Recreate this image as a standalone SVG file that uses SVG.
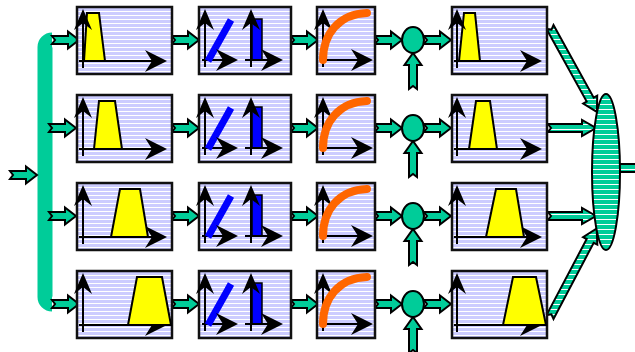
<svg xmlns="http://www.w3.org/2000/svg" width="635" height="352" viewBox="0 0 635 352">
<style>
.box{fill:url(#lav);stroke:#111;stroke-width:2.5}
.ax{stroke:#000;stroke-width:2;fill:none}
.trap{fill:#FFFF00;stroke:#000;stroke-width:2}
.sa{fill:#00CC99;stroke:#000;stroke-width:2}
.ba{fill:url(#grn);stroke:#000;stroke-width:2}
.jn{fill:#00CC99;stroke:#000;stroke-width:2}
.blue{stroke:#0000FF;stroke-width:7}
.curve{stroke:#FF6600;stroke-width:8;stroke-linecap:round;fill:none}
</style>
<defs>
  <!-- lavender fill with thin white rules -->
  <pattern id="lav" width="8" height="4" patternUnits="userSpaceOnUse">
    <rect width="8" height="4" fill="#CCCCFF"/>
    <rect y="3" width="8" height="1" fill="#FFFFFF"/>
  </pattern>
  <!-- green fill with white rules -->
  <pattern id="grn" width="8" height="5" patternUnits="userSpaceOnUse">
    <rect width="8" height="5" fill="#00CC99"/>
    <rect y="4" width="8" height="1" fill="#FFFFFF"/>
  </pattern>
  <!-- barbed heads: right-pointing and up-pointing, tip at origin -->
  <path id="hr" d="M0,0 L-22,-11 L-15,0 L-22,11 Z"/>
  <path id="hu" d="M0,0 L-9,21 L0,14 L9,21 Z"/>
  <!-- small block arrows, tail at origin -->
  <path id="sa" class="sa" d="M0,-4 L16,-4 L16,-8.5 L27,0 L16,8.5 L16,4 L0,4 L3,0 Z"/>
  <path id="va" class="sa" d="M-4,0 L0,-3 L4,0 L4,-24 L8.5,-24 L0,-36 L-8.5,-24 L-4,-24 Z"/>
  <!-- box contents (first-row coordinates) -->
  <g id="c1a">
    <line class="ax" x1="83" y1="68" x2="83" y2="18"/>
    <line class="ax" x1="79" y1="61" x2="155" y2="61"/>
    <use href="#hr" x="167" y="61"/>
  </g>
  <g id="c2">
    <rect x="252" y="19" width="10" height="41" fill="#0000FF" stroke="#000" stroke-width="1.5"/>
    <line class="ax" x1="205" y1="67" x2="205" y2="18"/>
    <line class="ax" x1="202" y1="60" x2="228" y2="60"/>
    <line class="ax" x1="251" y1="67" x2="251" y2="18"/>
    <line class="ax" x1="245" y1="60" x2="273" y2="60"/>
    <line class="blue" x1="208" y1="61" x2="231" y2="20"/>
    <use href="#hu" x="205" y="9"/>
    <use href="#hr" x="238" y="60"/>
    <use href="#hu" x="251" y="9"/>
    <use href="#hr" x="283" y="60"/>
  </g>
  <g id="c3">
    <line class="ax" x1="323" y1="67" x2="323" y2="18"/>
    <line class="ax" x1="320" y1="60" x2="361" y2="60"/>
    <use href="#hu" x="323" y="9"/>
    <use href="#hr" x="373" y="60"/>
    <path class="curve" d="M323,60 C323,34 339,14 367,13"/>
  </g>
  <g id="c5a">
    <line class="ax" x1="457" y1="68" x2="457" y2="18"/>
    <line class="ax" x1="454" y1="61" x2="530" y2="61"/>
    <use href="#hr" x="542" y="61"/>
  </g>
</defs>

<rect width="635" height="352" fill="#FFFFFF"/>

<!-- distribution bus -->
<g id="bus">
  <path d="M52,40 A7,7 0 0 0 45,47 L45,297 A7,7 0 0 0 52,304" fill="none" stroke="#00CC99" stroke-width="15"/>
</g>

<!-- connectors -->
<g id="connectors">
  <use href="#sa" x="10" y="175"/>
  <use href="#sa" x="52" y="40"/>
  <use href="#sa" x="49" y="128"/>
  <use href="#sa" x="49" y="216"/>
  <use href="#sa" x="52" y="304"/>

  <use href="#sa" x="172" y="40"/>
  <use href="#sa" x="172" y="128"/>
  <use href="#sa" x="172" y="216"/>
  <use href="#sa" x="172" y="304"/>

  <use href="#sa" x="291" y="40"/>
  <use href="#sa" x="291" y="128"/>
  <use href="#sa" x="291" y="216"/>
  <use href="#sa" x="291" y="304"/>

  <use href="#sa" x="375" y="40"/>
  <use href="#sa" x="375" y="128"/>
  <use href="#sa" x="375" y="216"/>
  <use href="#sa" x="375" y="304"/>

  <use href="#sa" x="424" y="40"/>
  <use href="#sa" x="424" y="128"/>
  <use href="#sa" x="424" y="216"/>
  <use href="#sa" x="424" y="304"/>

  <use href="#va" x="413" y="89"/>
  <use href="#va" x="413" y="177"/>
  <use href="#va" x="413" y="265"/>
  <use href="#va" x="413" y="353"/>

  <path class="ba" d="M553.5,25.1 L593.7,97.7 L597.2,95.7 L596.9,111.9 L583.2,103.5 L586.7,101.5 L546.5,28.9 L551.5,29.6 Z"/>
  <path class="ba" d="M548,124 L582,124 L582,120 L596,128 L582,136 L582,132 L548,132 L551,128 Z"/>
  <path class="ba" d="M548,212 L582,212 L582,208 L596,216 L582,224 L582,220 L548,220 L551,216 Z"/>
  <path class="ba" d="M546.5,315.1 L586.7,239.0 L583.1,237.2 L596.7,228.5 L597.3,244.6 L593.7,242.8 L553.5,318.9 L551.4,314.3 Z"/>
  <path class="ba" d="M612,164 L640,164 L640,172 L612,172 L615,168 Z"/>
</g>

<!-- column 1: pass-band boxes -->
<g id="band-1">
  <rect class="box" x="77" y="7" width="95" height="67"/>
  <use href="#c1a"/>
  <polygon class="trap" points="84,61 87,13 99,13 105,61"/>
  <use href="#hu" x="83" y="9"/>
</g>
<g id="band-2" transform="translate(0,88)">
  <rect class="box" x="77" y="7" width="95" height="67"/>
  <use href="#c1a"/>
  <polygon class="trap" points="94,61 99,13 115,13 122,61"/>
  <use href="#hu" x="83" y="9"/>
</g>
<g id="band-3" transform="translate(0,176)">
  <rect class="box" x="77" y="7" width="95" height="67"/>
  <use href="#c1a"/>
  <polygon class="trap" points="111,61 120,13 140,13 148,61"/>
  <use href="#hu" x="83" y="9"/>
</g>
<g id="band-4" transform="translate(0,264)">
  <rect class="box" x="77" y="7" width="95" height="67"/>
  <use href="#c1a"/>
  <polygon class="trap" points="128,61 137,13 162,13 171,61"/>
  <use href="#hu" x="83" y="9"/>
</g>

<!-- column 2 -->
<g id="lin-1"><rect class="box" x="199" y="7" width="92" height="67"/><use href="#c2"/></g>
<g id="lin-2" transform="translate(0,88)"><rect class="box" x="199" y="7" width="92" height="67"/><use href="#c2"/></g>
<g id="lin-3" transform="translate(0,176)"><rect class="box" x="199" y="7" width="92" height="67"/><use href="#c2"/></g>
<g id="lin-4" transform="translate(0,264)"><rect class="box" x="199" y="7" width="92" height="67"/><use href="#c2"/></g>

<!-- column 3 -->
<g id="curve-1"><rect class="box" x="317" y="7" width="58" height="67"/><use href="#c3"/></g>
<g id="curve-2" transform="translate(0,88)"><rect class="box" x="317" y="7" width="58" height="67"/><use href="#c3"/></g>
<g id="curve-3" transform="translate(0,176)"><rect class="box" x="317" y="7" width="58" height="67"/><use href="#c3"/></g>
<g id="curve-4" transform="translate(0,264)"><rect class="box" x="317" y="7" width="58" height="67"/><use href="#c3"/></g>

<!-- junctions -->
<g id="mix-1"><ellipse class="jn" cx="413" cy="40" rx="11" ry="13"/></g>
<g id="mix-2"><ellipse class="jn" cx="413" cy="128" rx="11" ry="13"/></g>
<g id="mix-3"><ellipse class="jn" cx="413" cy="216" rx="11" ry="13"/></g>
<g id="mix-4"><ellipse class="jn" cx="413" cy="304" rx="11" ry="13"/></g>

<!-- column 5 -->
<g id="out-1">
  <rect class="box" x="452" y="7" width="95" height="67"/>
  <use href="#c5a"/>
  <polygon class="trap" points="459,61 464,13 475,13 480,61"/>
  <use href="#hu" x="457" y="9"/>
</g>
<g id="out-2" transform="translate(0,88)">
  <rect class="box" x="452" y="7" width="95" height="67"/>
  <use href="#c5a"/>
  <polygon class="trap" points="469,61 476,13 490,13 497,61"/>
  <use href="#hu" x="457" y="9"/>
</g>
<g id="out-3" transform="translate(0,176)">
  <rect class="box" x="452" y="7" width="95" height="67"/>
  <use href="#c5a"/>
  <polygon class="trap" points="486,61 496,13 516,13 524,61"/>
  <use href="#hu" x="457" y="9"/>
</g>
<g id="out-4" transform="translate(0,264)">
  <rect class="box" x="452" y="7" width="95" height="67"/>
  <use href="#c5a"/>
  <polygon class="trap" points="503,61 513,13 536,13 546,61"/>
  <use href="#hu" x="457" y="9"/>
</g>

<!-- summing node -->
<g id="sum">
  <ellipse cx="606" cy="172" rx="14" ry="78" fill="url(#grn)" stroke="#000" stroke-width="2"/>
</g>
</svg>
